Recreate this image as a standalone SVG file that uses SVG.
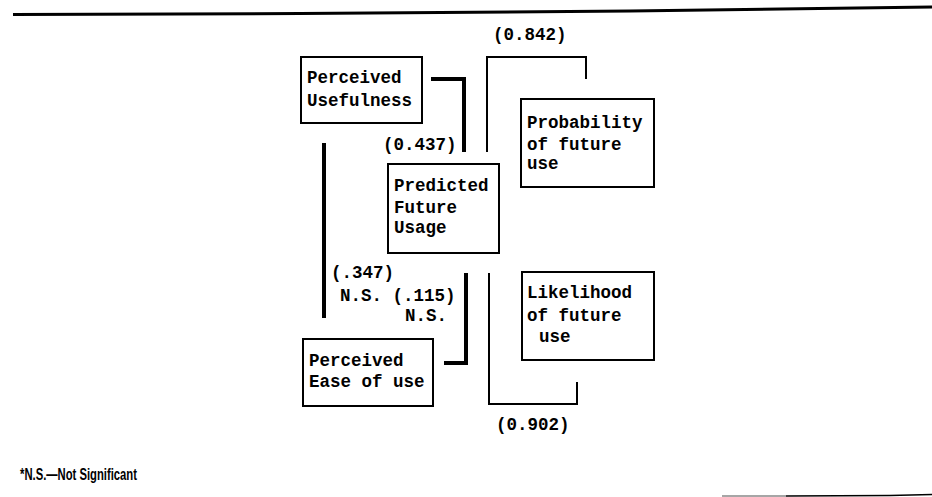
<svg xmlns="http://www.w3.org/2000/svg" width="932" height="497" viewBox="0 0 932 497">
<style>
.box{fill:#fff;stroke:#000;stroke-width:2}
.t{font-family:"Liberation Mono","Courier New",monospace;font-weight:bold;font-size:17.5px;fill:#000}
.thick{fill:none;stroke:#000;stroke-width:4}
.thin{fill:none;stroke:#000;stroke-width:2}
.note{font-family:"Liberation Sans",Arial,sans-serif;font-weight:bold;font-size:16.5px;fill:#000}
</style>
<rect width="932" height="497" fill="#fff"/>
<path d="M13,14.5 L300,13.5 L630,11 L932,7" fill="none" stroke="#000" stroke-width="3"/>
<g id="connectors">
<path class="thick" d="M431,79 H464 V152"/>
<path class="thin" d="M487,152 V57 H586 V79"/>
<path class="thick" d="M324,143 V318"/>
<path class="thick" d="M466,273 V363 H444"/>
<path class="thin" d="M489,273 V404 H577 V382"/>
<text class="t" x="383" y="150">(0.437)</text>
<text class="t" x="493" y="40">(0.842)</text>
<text class="t" x="331" y="278">(.347)</text>
<text class="t" x="340" y="301">N.S. (.115)</text>
<text class="t" x="405" y="321">N.S.</text>
<text class="t" x="496" y="430">(0.902)</text>
</g>
<g id="perceived-usefulness">
<rect class="box" x="301" y="57" width="121" height="66"/>
<text class="t" x="307" y="83">Perceived</text>
<text class="t" x="307" y="106">Usefulness</text>
</g>
<g id="predicted-future-usage">
<rect class="box" x="388" y="164" width="111" height="89"/>
<text class="t" x="394" y="191">Predicted</text>
<text class="t" x="394" y="213">Future</text>
<text class="t" x="394" y="233">Usage</text>
</g>
<g id="probability">
<rect class="box" x="521" y="99" width="133" height="88"/>
<text class="t" x="527" y="128">Probability</text>
<text class="t" x="527" y="150">of future</text>
<text class="t" x="527" y="169">use</text>
</g>
<g id="likelihood">
<rect class="box" x="522" y="272" width="132" height="88"/>
<text class="t" x="527" y="298">Likelihood</text>
<text class="t" x="527" y="321">of future</text>
<text class="t" x="539" y="342">use</text>
</g>
<g id="perceived-ease">
<rect class="box" x="303" y="339" width="130" height="67"/>
<text class="t" x="309" y="366">Perceived</text>
<text class="t" x="309" y="387">Ease of use</text>
</g>
<text class="note" x="20" y="480" textLength="117" lengthAdjust="spacingAndGlyphs">*N.S.—Not Significant</text>
<path d="M722,496 H786" stroke="#888" stroke-width="1.5"/>
<path d="M786,496 L890,495.5 L932,494.5" fill="none" stroke="#000" stroke-width="1.5"/>
</svg>
